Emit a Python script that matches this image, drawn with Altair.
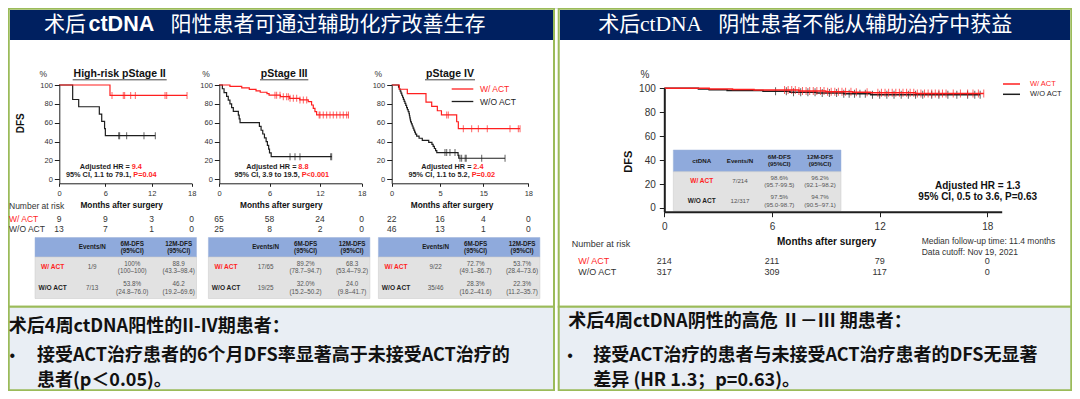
import altair as alt
import pandas as pd

W, H = 1064, 383
OFF = 8  # page margin: reference pixel -> chart pixel

RED = "#FF1F1F"
BLK = "#1E1E1E"
NAVY = "#002060"
GREEN = "#9BBB59"
BOXBG = "#E9EEF4"
HDR = "#8FAADC"
CELL = "#E2E2E2"
GRAY = "#333333"
SANS = "Liberation Sans"
CJK = "Noto Sans CJK SC"

# ------------------------------------------------------------------ data
risk_times = [0, 6, 12, 18]
groups = ["W/ ACT", "W/O ACT"]

# High-risk pStage II
s2_act_t = [0, 6.6, 17.3]
s2_act_s = [100, 88.9, 88.9]
s2_act_cens = [6.86, 8.32, 8.5, 9.28, 9.88, 14.0, 14.25, 17.3]
s2_no_t = [0, 1.77, 2.55, 5.22, 5.53, 5.9, 6.0, 12.54]
s2_no_s = [100, 84.6, 76.9, 69.2, 61.5, 53.8, 46.2, 46.2]
s2_no_cens = [7.73, 7.85, 8.76, 11.0, 12.54]
s2_risk_act = [9, 9, 3, 0]
s2_risk_no = [13, 7, 1, 0]
s2_events = ["1/9", "7/13"]
s2_d6 = ["100%", "53.8%"]
s2_d6ci = ["(100–100)", "(24.8–76.0)"]
s2_d12 = ["88.9", "46.2"]
s2_d12ci = ["(43.3–98.4)", "(19.2–69.6)"]

# pStage III
s3_act_t = [0, 1.3, 2.7, 3.6, 4.4, 4.9, 5.7, 5.95, 7.3, 8.4, 9.6, 10.6, 11.0, 11.2, 11.4, 11.6, 16.1]
s3_act_s = [100, 98.5, 96.9, 95.4, 93.8, 92.3, 90.8, 89.2, 87.6, 85.9, 84.2, 82.4, 78.8, 75.3, 71.8, 68.3, 68.3]
s3_act_cens = [6.65, 6.85, 7.25, 7.64, 8.04, 8.24, 8.44, 8.83, 9.23, 9.62, 10.02, 10.42,
               11.9, 12.0, 12.47, 12.96, 13.44, 13.91, 14.4, 14.88, 15.35, 15.84, 16.1]
s3_no_t = [0, 0.4, 0.6, 0.9, 1.1, 1.3, 1.5, 1.7, 2.3, 2.4, 2.5, 4.8, 5.0, 5.2, 5.4, 5.6, 5.75, 5.9, 6.0, 6.2, 13.7]
s3_no_s = [100, 96, 92, 88, 84, 80, 76, 72, 68, 64, 60, 56, 52, 48, 44, 40, 36, 32, 28, 24, 24]
s3_no_cens = [8.44, 9.03, 9.62, 13.54, 13.68]
s3_risk_act = [65, 58, 24, 0]
s3_risk_no = [25, 8, 2, 0]
s3_events = ["17/65", "19/25"]
s3_d6 = ["89.2%", "32.0%"]
s3_d6ci = ["(78.7–94.7)", "(15.2–50.2)"]
s3_d12 = ["68.3", "24.0"]
s3_d12ci = ["(53.4–79.2)", "(9.8–41.7)"]

# pStage IV
s4_act_t = [0, 0.95, 1.94, 4.26, 4.97, 5.67, 6.2, 8.31, 8.54, 16.9]
s4_act_s = [100, 95.5, 90.9, 81.8, 77.3, 72.7, 68.2, 61.0, 53.7, 53.7]
s4_act_cens = [6.93, 7.15, 9.23, 10.39, 11.31, 12.53, 15.56, 16.67, 16.9]
s4_no_t = [0, 0.85, 0.95, 1.05, 1.15, 1.25, 1.35, 1.45, 1.55, 1.65, 1.75, 1.85, 1.95, 2.05, 2.15, 2.2,
           2.25, 2.3, 2.35, 2.45, 2.55, 2.65, 2.75, 2.85, 2.95, 3.1, 3.4, 3.8, 4.6, 5.0, 5.15, 5.3,
           5.45, 5.6, 8.5, 8.6, 14.9]
s4_no_s = [100, 97.8, 95.7, 93.5, 91.3, 89.1, 87.0, 84.8, 82.6, 80.4, 78.3, 76.1, 73.9, 71.7, 69.6, 67.4,
           65.2, 63.0, 60.9, 58.7, 56.5, 54.3, 52.2, 50.0, 47.8, 45.7, 43.5, 41.3, 39.1, 37.0, 34.8, 32.6,
           30.4, 28.3, 25.3, 22.3, 22.3]
s4_no_cens = [6.69, 6.93, 7.38, 8.08, 8.77, 9.0, 9.49, 9.63, 11.78, 14.9]
s4_risk_act = [22, 16, 4, 0]
s4_risk_no = [46, 13, 1, 0]
s4_events = ["9/22", "35/46"]
s4_d6 = ["72.7%", "28.3%"]
s4_d6ci = ["(49.1–86.7)", "(16.2–41.6)"]
s4_d12 = ["53.7%", "22.3%"]
s4_d12ci = ["(28.4–73.6)", "(11.2–35.7)"]

# ctDNA negative
neg_act_t = [0, 2.5, 3.8, 5.0, 7.5, 9.0, 10.5, 11.5, 14.0, 17.8]
neg_act_s = [100, 99.5, 99.1, 98.6, 97.7, 97.2, 96.7, 96.2, 95.6, 95.6]
neg_act_cens = [6.7, 6.9, 7.1, 7.3, 7.5, 7.7, 7.9, 8.1, 8.3, 8.5, 8.7, 8.9, 9.1, 9.3, 9.5, 9.7, 9.9,
                10.1, 10.4, 10.7, 11.3, 11.9, 12.1, 12.3, 12.5, 12.7, 12.9, 13.1, 13.3, 13.5, 13.7,
                13.9, 14.1, 14.3, 14.5, 14.7, 14.9, 15.1, 15.3, 15.5, 15.7, 16.1, 16.5, 16.9, 17.2,
                17.5, 17.8]
neg_no_t = [0, 1.9, 2.5, 3.5, 5.5, 7.0, 8.5, 10.0, 11.5, 17.6]
neg_no_s = [100, 99.4, 98.7, 98.1, 97.5, 96.8, 96.1, 95.4, 94.7, 94.7]
neg_no_cens = [6.2, 6.8, 7.2, 7.6, 8.0, 8.4, 8.8, 9.2, 9.6, 10.0, 10.3, 10.6, 10.9, 11.2, 11.6,
               12.0, 12.4, 12.8, 13.2, 13.6, 14.0, 14.4, 14.9, 15.3, 15.8, 16.3, 16.9, 17.3, 17.6]
neg_risk_act = [214, 211, 79, 0]
neg_risk_no = [317, 309, 117, 0]
neg_events = ["7/214", "12/317"]
neg_d6 = ["98.6%", "97.5%"]
neg_d6ci = ["(95.7-99.5)", "(95.0-98.7)"]
neg_d12 = ["96.2%", "94.7%"]
neg_d12ci = ["(92.1–98.2)", "(90.5–97.1)"]

y_ticks = [0, 20, 40, 60, 80, 100]
x_ticks = [0, 6, 12, 18]


# ------------------------------------------------------------------ helpers
def px(v):
    return v - OFF


def cx(v, m=0.75):
    return min(max(v - OFF, m), W - m)


def cy(v, m=0.75):
    return min(max(v - OFF, m), H - m)


def rect_layer(rows, stroke=None, sw=0, m=0.75):
    df = pd.DataFrame(rows, columns=["x", "x2", "y", "y2", "fill"])
    for c in ["x", "x2"]:
        df[c] = df[c].map(lambda v: cx(v, m))
    for c in ["y", "y2"]:
        df[c] = df[c].map(lambda v: cy(v, m))
    mk = {}
    if stroke:
        mk = dict(stroke=stroke, strokeWidth=sw)
    return alt.Chart(df).mark_rect(**mk).encode(
        x=alt.X("x:Q", scale=None, axis=None), x2="x2:Q",
        y=alt.Y("y:Q", scale=None, axis=None), y2="y2:Q",
        fill=alt.Fill("fill:N", scale=None))


def text_layer(rows, font=SANS, weight="normal", align="center", angle=None):
    df = pd.DataFrame(rows, columns=["x", "y", "text", "size", "color"])
    df["x"] = df["x"] - OFF
    df["y"] = df["y"] - OFF
    mk = dict(font=font, fontWeight=weight, align=align, baseline="middle")
    if angle is not None:
        mk["angle"] = angle
    return alt.Chart(df).mark_text(**mk).encode(
        x=alt.X("x:Q", scale=None, axis=None),
        y=alt.Y("y:Q", scale=None, axis=None),
        text="text:N",
        size=alt.Size("size:Q", scale=None),
        color=alt.Color("color:N", scale=None))


def hrule_layer(rows):
    df = pd.DataFrame(rows, columns=["x", "x2", "y", "color", "w"])
    for c in ["x", "x2", "y"]:
        df[c] = df[c] - OFF
    return alt.Chart(df).mark_rule().encode(
        x=alt.X("x:Q", scale=None, axis=None), x2="x2:Q",
        y=alt.Y("y:Q", scale=None, axis=None),
        color=alt.Color("color:N", scale=None),
        strokeWidth=alt.StrokeWidth("w:Q", scale=None))


def step_value(ts, ss, t):
    v = ss[0]
    for ti, si in zip(ts, ss):
        if ti <= t:
            v = si
    return v


def km(curves, xdom, xrng, ydom, yrng, xaxis_y, yaxis_x, fs, xtick, ytick, xpad, ypad,
       lw, cs, dw, label_expr=None):
    xs = alt.Scale(domain=xdom, range=[px(v) for v in xrng], nice=False, zero=False)
    ys = alt.Scale(domain=ydom, range=[px(v) for v in yrng], nice=False, zero=False)
    xkw = dict(orient="bottom", offset=px(xaxis_y) - H, values=x_ticks, title=None, grid=False,
               tickSize=xtick, tickColor=BLK, domainColor=BLK, domainWidth=dw, tickWidth=1,
               labelFont=SANS, labelFontSize=fs, labelColor=GRAY, labelPadding=xpad,
               labelFlush=False, labelOverlap=False, zindex=1)
    if label_expr:
        xkw["labelExpr"] = label_expr
    ykw = dict(orient="left", offset=-px(yaxis_x), values=y_ticks, title=None, grid=False,
               tickSize=ytick, tickColor=BLK, domainColor=BLK, domainWidth=dw, tickWidth=1,
               labelFont=SANS, labelFontSize=fs, labelColor=GRAY, labelPadding=ypad,
               labelFlush=False, labelOverlap=False, zindex=1)
    out = []
    for i, (ts, ss, cens, color) in enumerate(curves):
        df = pd.DataFrame({"t": ts, "s": ss})
        if i == 0:
            xe = alt.X("t:Q", scale=xs, axis=alt.Axis(**xkw))
            ye = alt.Y("s:Q", scale=ys, axis=alt.Axis(**ykw))
        else:
            xe = alt.X("t:Q", scale=xs, axis=None)
            ye = alt.Y("s:Q", scale=ys, axis=None)
        out.append(alt.Chart(df).mark_line(interpolate="step-after", color=color,
                                           strokeWidth=lw).encode(x=xe, y=ye))
        cdf = pd.DataFrame({"t": cens, "s": [step_value(ts, ss, c) for c in cens]})
        out.append(alt.Chart(cdf).mark_tick(orient="vertical", size=cs, thickness=1,
                                            color=color).encode(
            x=alt.X("t:Q", scale=xs, axis=None), y=alt.Y("s:Q", scale=ys, axis=None)))
    return out, xs


def risk_layer(xs, vals, y_ref, color, fs):
    df = pd.DataFrame({"t": risk_times, "n": [str(v) for v in vals]})
    return alt.Chart(df).mark_text(font=SANS, fontSize=fs, color=color, baseline="middle").encode(
        x=alt.X("t:Q", scale=xs, axis=None), y=alt.value(px(y_ref)), text="n:N")


def table_layers(x0, x1, top, hb, bot, cols, head0, events, d6, d6ci, d12, d12ci, fs):
    out = [rect_layer([[x0, x1, top, hb, HDR]], stroke="#9DB3D9", sw=0.5),
           rect_layer([[x0, x1, hb, bot, CELL]], stroke="#C8C8C8", sw=0.5)]
    hm = (top + hb) / 2
    d = fs * 0.58
    head = [[cols[1], hm, "Events/N", fs, "#1A1A1A"],
            [cols[2], hm - d, "6M-DFS", fs, "#1A1A1A"], [cols[2], hm + d, "(95%CI)", fs, "#1A1A1A"],
            [cols[3], hm - d, "12M-DFS", fs, "#1A1A1A"], [cols[3], hm + d, "(95%CI)", fs, "#1A1A1A"]]
    if head0:
        head.append([cols[0], hm, head0, fs, "#1A1A1A"])
    out.append(text_layer(head, weight="bold"))
    labels, body = [], []
    for i in range(2):
        rm = hb + (bot - hb) * (1 + 2 * i) / 4
        labels.append([cols[0], rm, groups[i], fs + 0.3, RED if i == 0 else BLK])
        body += [[cols[1], rm, events[i], fs, "#555555"],
                 [cols[2], rm - d, d6[i], fs, "#555555"], [cols[2], rm + d, d6ci[i], fs, "#555555"],
                 [cols[3], rm - d, d12[i], fs, "#555555"], [cols[3], rm + d, d12ci[i], fs, "#555555"]]
    out.append(text_layer(labels, weight="bold"))
    out.append(text_layer(body))
    return out


layers = []

# ------------------------------------------------------------------ slide frame
layers.append(rect_layer([[2.5, 554, 2.5, 306.7, "#FFFFFF"],
                          [558.7, 1077, 2.5, 306.7, "#FFFFFF"]], stroke=GREEN, sw=2))
layers.append(rect_layer([[2.5, 554, 306.7, 396, BOXBG],
                          [558.7, 1077, 306.7, 396, BOXBG]], stroke=GREEN, sw=2))
layers.append(rect_layer([[3.5, 553, 3, 40, NAVY],
                          [560, 1075.5, 3, 40, NAVY]], m=2))

layers.append(text_layer([[43.9, 24.5, "术后", 21, "#FFFFFF"],
                          [170.4, 24.5, "阳性患者可通过辅助化疗改善生存", 21, "#FFFFFF"],
                          [598.3, 24.5, "术后", 21, "#FFFFFF"],
                          [718.3, 24.5, "阴性患者不能从辅助治疗中获益", 21, "#FFFFFF"]],
                         font=CJK, align="left"))
layers.append(text_layer([[88.5, 24.5, "ctDNA", 21.5, "#FFFFFF"]], weight="bold", align="left"))
layers.append(text_layer([[640, 24.5, "ctDNA", 21.5, "#FFFFFF"]], font="Liberation Serif", align="left"))

# ------------------------------------------------------------------ left panel KM plots
LY = ([-4.3, 100], [183.3, 85])
p2, xs2 = km([(s2_no_t, s2_no_s, s2_no_cens, BLK), (s2_act_t, s2_act_s, s2_act_cens, RED)],
             [0, 12, 18], [59, 151.7, 191.7], LY[0], LY[1], 183.3, 59.3, 7.5, 3, 5, 3.5, 2,
             1.2, 7, 1)
p3, xs3 = km([(s3_no_t, s3_no_s, s3_no_cens, BLK), (s3_act_t, s3_act_s, s3_act_cens, RED)],
             [0, 12, 18], [219, 320, 361.7], LY[0], LY[1], 183.3, 219.3, 7.5, 3, 5, 3.5, 2,
             1.2, 7, 1)
p4, xs4 = km([(s4_no_t, s4_no_s, s4_no_cens, BLK), (s4_act_t, s4_act_s, s4_act_cens, RED)],
             [0, 6, 12, 18], [391.7, 440, 483.3, 528.3], LY[0], LY[1], 183.3, 391.7, 7.5, 3, 5,
             3.5, 2, 1.2, 7, 1,
             label_expr="datum.value == 6 ? '5' : (datum.value == 12 ? '15' : datum.label)")
layers += p2 + p3 + p4

layers.append(text_layer([[43.3, 74, "%", 8.5, GRAY], [206, 74, "%", 8.5, GRAY],
                          [378.3, 74, "%", 8.5, GRAY]]))
layers.append(text_layer([[119.7, 73.5, "High-risk pStage II", 10.5, "#111111"],
                          [284.2, 73.5, "pStage III", 10.5, "#111111"],
                          [450, 73.5, "pStage IV", 10.5, "#111111"],
                          [121.7, 205.5, "Months after surgery", 8.3, "#111111"],
                          [281.3, 205.5, "Months after surgery", 8.3, "#111111"],
                          [452, 205.5, "Months after surgery", 8.3, "#111111"]], weight="bold"))
layers.append(hrule_layer([[72.7, 166.7, 79.8, "#111111", 0.8],
                           [260, 308.3, 79.8, "#111111", 0.8],
                           [425, 475, 79.8, "#111111", 0.8],
                           [451.7, 473.3, 89, RED, 1.3],
                           [451.7, 473.3, 101.5, BLK, 1.3]]))
layers.append(text_layer([[20.7, 123.3, "DFS", 10, "#111111"]], weight="bold", angle=270))
layers.append(text_layer([[480, 89, "W/ ACT", 8.5, RED], [480, 101.5, "W/O ACT", 8.5, BLK]],
                         align="left"))
# HR annotations (black part right-aligned, red part left-aligned at split point)
layers.append(text_layer([[129.8, 167.3, "Adjusted HR =", 7.3, BLK],
                          [131.3, 175.3, "95% CI, 1.1 to 79.1,", 7.3, BLK],
                          [296.4, 167.3, "Adjusted HR =", 7.3, BLK],
                          [299.7, 175.3, "95% CI, 3.9 to 19.5,", 7.3, BLK],
                          [471.4, 167.3, "Adjusted HR =", 7.3, BLK],
                          [469.7, 175.3, "95% CI, 1.1 to 5.2,", 7.3, BLK]],
                         weight="bold", align="right"))
layers.append(text_layer([[131.7, 167.3, "9.4", 7.3, RED], [133.3, 175.3, "P=0.04", 7.3, RED],
                          [298.3, 167.3, "8.8", 7.3, RED], [301.7, 175.3, "P<0.001", 7.3, RED],
                          [473.3, 167.3, "2.4", 7.3, RED], [471.7, 175.3, "P=0.02", 7.3, RED]],
                         weight="bold", align="left"))

# number at risk (left)
layers.append(text_layer([[9, 206.3, "Number at risk", 8.5, GRAY],
                          [9, 218.8, "W/ ACT", 8.5, RED],
                          [9, 229, "W/O ACT", 8.5, GRAY]], align="left"))
for xs_, ra, rn in [(xs2, s2_risk_act, s2_risk_no), (xs3, s3_risk_act, s3_risk_no),
                    (xs4, s4_risk_act, s4_risk_no)]:
    layers.append(risk_layer(xs_, ra, 218.8, GRAY, 8.5))
    layers.append(risk_layer(xs_, rn, 229, GRAY, 8.5))

# summary tables (left)
col_off = [17.6, 57.2, 97.2, 143.7]
for x0, ev, a, b, c, d_ in [(35, s2_events, s2_d6, s2_d6ci, s2_d12, s2_d12ci),
                            (208.4, s3_events, s3_d6, s3_d6ci, s3_d12, s3_d12ci),
                            (378.4, s4_events, s4_d6, s4_d6ci, s4_d12, s4_d12ci)]:
    layers += table_layers(x0, x0 + 161.5, 237.5, 257, 298.5, [x0 + o for o in col_off], None,
                           ev, a, b, c, d_, 6.3)

# ------------------------------------------------------------------ right panel KM plot
pn, xsn = km([(neg_no_t, neg_no_s, neg_no_cens, BLK), (neg_act_t, neg_act_s, neg_act_cens, RED)],
             [0, 18.8], [664.3, 1001.7], [-3.1, 100], [211.7, 88.3], 211.7, 664.3, 10, 5, 5, 5, 4,
             1.5, 8, 2)
layers += pn
layers.append(text_layer([[645, 75, "%", 10, GRAY]]))
layers.append(text_layer([[629, 161.7, "DFS", 11, "#111111"]], weight="bold", angle=270))
layers.append(text_layer([[826.7, 241.7, "Months after surgery", 10, "#111111"],
                          [977.7, 186, "Adjusted HR = 1.3", 10, "#111111"],
                          [977.7, 197.3, "95% CI, 0.5 to 3.6, P=0.63", 10, "#111111"]],
                         weight="bold"))
layers.append(hrule_layer([[1003, 1020, 84, RED, 1.5], [1003, 1020, 94.3, BLK, 1.5]]))
layers.append(text_layer([[1030, 84, "W/ ACT", 7.5, RED], [1030, 94.3, "W/O ACT", 7.5, BLK],
                          [571.7, 244, "Number at risk", 9, GRAY],
                          [578.3, 260.7, "W/ ACT", 9, RED], [578.3, 272, "W/O ACT", 9, GRAY],
                          [921.7, 241, "Median follow-up time: 11.4 months", 8.5, GRAY],
                          [921.7, 252.3, "Data cutoff: Nov 19, 2021", 8.5, GRAY]], align="left"))
layers.append(risk_layer(xsn, neg_risk_act, 260.7, GRAY, 9))
layers.append(risk_layer(xsn, neg_risk_no, 272, GRAY, 9))
layers += table_layers(673.3, 841, 150, 171.7, 210.7, [701.7, 740, 779.3, 820], "ctDNA",
                       neg_events, neg_d6, neg_d6ci, neg_d12, neg_d12ci, 6.2)

# ------------------------------------------------------------------ bottom text boxes
layers.append(text_layer([[8.8, 327, "术后4周ctDNA阳性的II-IV期患者：", 18, "#111111"],
                          [36.9, 356, "接受ACT治疗患者的6个月DFS率显著高于未接受ACT治疗的", 18, "#111111"],
                          [36.9, 381, "患者(p＜0.05)。", 18, "#111111"],
                          [568.3, 322, "术后4周ctDNA阴性的高危 Ⅱ－Ⅲ 期患者：", 18, "#111111"],
                          [593.3, 356, "接受ACT治疗的患者与未接受ACT治疗患者的DFS无显著", 18, "#111111"],
                          [593.3, 381, "差异 (HR 1.3；p=0.63)。", 18, "#111111"]],
                         font=CJK, weight="bold", align="left"))
layers.append(text_layer([[12.3, 356, "•", 16, "#111111"], [570, 356, "•", 16, "#111111"]]))

chart = alt.layer(*layers).resolve_scale(
    x="independent", y="independent", color="independent", size="independent",
    fill="independent", strokeWidth="independent"
).resolve_axis(x="independent", y="independent").properties(
    width=W, height=H, autosize=alt.AutoSizeParams(type="none"), padding=0
).configure_view(stroke=None).configure(background="white")

chart.save("out.html", embed_options={"renderer": "svg", "actions": False})
